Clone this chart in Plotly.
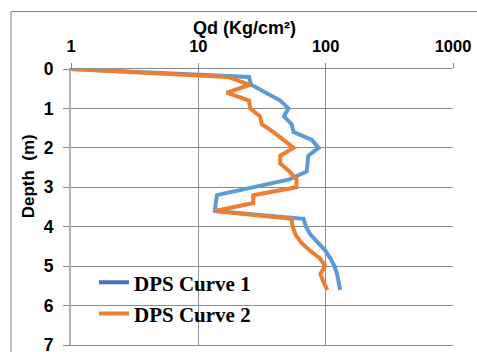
import plotly.graph_objects as go

depth_m = [0, 0.2, 0.4, 0.6, 0.8, 1.0, 1.2, 1.4, 1.6, 1.8, 2.0, 2.2, 2.4, 2.6, 2.8,
           3.0, 3.2, 3.4, 3.6, 3.8, 4.0, 4.2, 4.4, 4.6, 4.8, 5.0, 5.2, 5.4, 5.6]
qd_curve1 = [1, 25, 26, 34.5, 44, 51, 47, 54, 56, 78, 88, 73, 72, 71, 52,
             28, 14, 13.7, 13.5, 67, 70, 76, 86, 99, 109, 117, 123, 127, 130]
qd_curve2 = [1, 17, 25.5, 16.7, 25, 25.5, 30.5, 31.5, 39, 47, 56, 44, 44, 52, 59,
             59, 27, 27, 13.5, 54, 55, 58, 64, 75, 90, 99, 91, 96, 103]
series_names = ["DPS Curve 1", "DPS Curve 2"]
x_ticks = [1, 10, 100, 1000]
x_tick_labels = ["1", "10", "100", "1000"]
y_ticks = [0, 1, 2, 3, 4, 5, 6, 7]

W, H = 477, 352
PL, PR, PT, PB = 71, 453, 68.5, 345          # plot area in window pixels
L, T, R, B = PL, PT, W - PR, H - PB
pw, ph = PR - PL, PB - PT

def px_x(p):
    return (p - PL) / pw

def px_y(p):
    return (PB - p) / ph

fig = go.Figure()
fig.add_trace(go.Scatter(x=qd_curve1, y=depth_m, mode="lines", showlegend=False,
                         line=dict(color="#5B9BD5", width=4)))
fig.add_trace(go.Scatter(x=qd_curve2, y=depth_m, mode="lines", showlegend=False,
                         line=dict(color="#ED7D31", width=4)))
# legend entries
fig.add_trace(go.Scatter(x=[None], y=[None], mode="lines", name=series_names[0],
                         legendgroup="a", line=dict(color="#4472C4", width=4)))
fig.add_trace(go.Scatter(x=[None], y=[None], mode="lines", name=series_names[1],
                         legendgroup="b", line=dict(color="#ED7D31", width=4)))

sans = "Liberation Sans, Arial"

fig.update_layout(
    width=W, height=H,
    margin=dict(l=L, r=R, t=T, b=B, pad=0, autoexpand=False),
    paper_bgcolor="white", plot_bgcolor="white",
    xaxis=dict(type="log", range=[0, 3], side="top",
               tickvals=x_ticks, ticktext=x_tick_labels,
               ticks="outside", ticklen=5, tickcolor="#888888",
               ticklabelstandoff=4, ticklabeloverflow="allow",
               tickfont=dict(family=sans, size=16.5, color="black", weight="bold"),
               automargin=False,
               showgrid=True, gridcolor="#8c8c8c", gridwidth=1,
               showline=True, linecolor="#8c8c8c", linewidth=1, mirror=True,
               zeroline=False),
    yaxis=dict(range=[7, 0], tickvals=y_ticks,
               ticks="outside", ticklen=6, tickcolor="#888888",
               ticklabelstandoff=6, ticklabeloverflow="allow",
               tickfont=dict(family=sans, size=17.5, color="black", weight="bold"),
               automargin=False,
               showgrid=True, gridcolor="#8c8c8c", gridwidth=1,
               showline=True, linecolor="#b0b0b0", linewidth=2,
               zeroline=False),
    legend=dict(x=px_x(94), y=px_y(262), xanchor="left", yanchor="top",
                bgcolor="rgba(0,0,0,0)", traceorder="grouped", tracegroupgap=1,
                font=dict(family="Liberation Serif, Cambria, serif", size=21,
                          color="black", weight="bold")),
    showlegend=True,
    annotations=[
        dict(text="Qd (Kg/cm²)", xref="paper", yref="paper",
             x=px_x(244), y=px_y(27), xanchor="center", yanchor="middle",
             showarrow=False,
             font=dict(family=sans, size=18, color="black", weight="bold")),
        dict(text="Depth  (m)", xref="paper", yref="paper",
             x=px_x(28), y=px_y(176), xanchor="center", yanchor="middle",
             showarrow=False, textangle=-90,
             font=dict(family=sans, size=17, color="black", weight="bold")),
    ],
    shapes=[
        dict(type="line", xref="paper", yref="paper",
             x0=px_x(11), x1=px_x(480), y0=px_y(11), y1=px_y(11),
             line=dict(color="#808080", width=1)),
        dict(type="line", xref="paper", yref="paper",
             x0=px_x(11), x1=px_x(11), y0=px_y(11), y1=px_y(360),
             line=dict(color="#808080", width=1)),
    ],
)

fig.write_html(
    "out.html",
    config={"displayModeBar": False},
    post_script="document.body.style.margin='0';document.body.style.overflow='hidden';",
)
